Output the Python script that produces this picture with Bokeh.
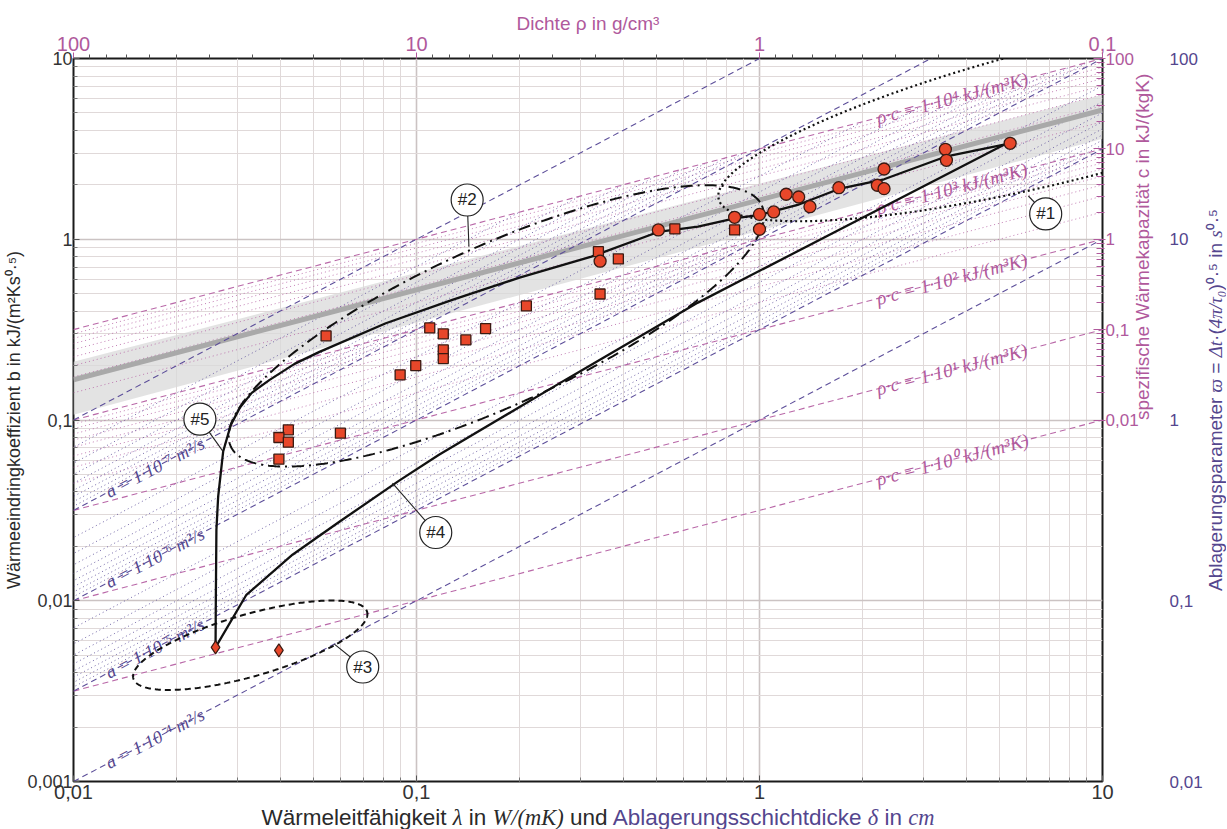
import numpy as np
from bokeh.plotting import figure
from bokeh.models import (LogAxis, Range1d, LogScale, FixedTicker, Div,
                          CustomJSTickFormatter)
from bokeh.layouts import column, row
from bokeh.embed import file_html
from bokeh.resources import INLINE
from bokeh.core.properties import value

# ------------------------------------------------------------------ data
# measured points (lambda in W/(mK), b in kJ/(m^2 K s^0.5))
circ_x = [0.507, 0.343, 0.846, 1.0, 1.0, 1.10, 1.196, 1.301, 1.403, 1.703,
          2.206, 2.307, 2.307, 3.483, 3.507, 5.38]
circ_y = [1.126, 0.756, 1.323, 1.373, 1.136, 1.416, 1.774, 1.713, 1.514, 1.929,
          1.989, 2.447, 1.905, 3.146, 2.734, 3.396]
sq_x = [0.0545, 0.2091, 0.1093, 0.1197, 0.1393, 0.1590, 0.1197, 0.1197, 0.0995,
        0.0896, 0.0423, 0.0397, 0.0423, 0.0397, 0.0600, 0.3391, 0.3877, 0.3429,
        0.5665, 0.8461]
sq_y = [0.2919, 0.4278, 0.3232, 0.2995, 0.2773, 0.3203, 0.2443, 0.2187, 0.2000,
        0.1777, 0.0882, 0.0800, 0.0754, 0.0607, 0.0846, 0.854, 0.778, 0.498,
        1.140, 1.126]
dia_x = [0.02595, 0.0397]
dia_y = [0.00552, 0.00531]

# solid curves (#5 upper branch, #4 lower branch)
upper_x = [0.02595, 0.0260, 0.0261, 0.02641, 0.02731, 0.02875, 0.03053, 0.03308,
           0.03731, 0.0441, 0.05213, 0.0814, 0.1272, 0.1986, 0.3236, 0.5065,
           0.6617, 0.8461, 1.0, 1.292, 1.703, 2.307, 3.483, 5.38]
upper_y = [0.00552, 0.01013, 0.0247, 0.0377, 0.0669, 0.0940, 0.1167, 0.1413,
           0.1667, 0.2044, 0.2381, 0.3431, 0.4618, 0.6109, 0.8012, 1.097,
           1.174, 1.303, 1.363, 1.548, 1.897, 2.147, 2.862, 3.396]
lower_x = [0.02595, 0.03192, 0.0435, 0.05959, 0.0890, 0.1163, 0.2715, 0.6617,
           5.147, 5.38]
lower_y = [0.00552, 0.01079, 0.01797, 0.02734, 0.0462, 0.0642, 0.1667, 0.4461,
           3.322, 3.396]

# regression line with confidence band
trend_x = [0.01, 10]
trend_y = [0.167, 5.19]
band_lo = [0.107, 3.6]
band_hi = [0.21, 6.3]

# reference lines
a_values = [1e-8, 1e-7, 1e-6, 1e-5, 1e-4]          # m^2/s
a_labels = {1e-7: "a = 1·10⁻⁷ m²/s", 1e-6: "a = 1·10⁻⁶ m²/s",
            1e-5: "a = 1·10⁻⁵ m²/s", 1e-4: "a = 1·10⁻⁴ m²/s"}
rc_values = [1e0, 1e1, 1e2, 1e3, 1e4]               # kJ/(m^3 K)
rc_labels = ["ρ·c = 1·10⁰ kJ/(m³K)", "ρ·c = 1·10¹ kJ/(m³K)", "ρ·c = 1·10² kJ/(m³K)",
             "ρ·c = 1·10³ kJ/(m³K)", "ρ·c = 1·10⁴ kJ/(m³K)"]
rc_minor = [k * 10.0 ** n for n in (2, 3) for k in range(2, 10)]
a_minor = [k * 10.0 ** n for n in (-8, -7, -6) for k in range(2, 10)]

# ellipses in log10 space: centre, semi-axis vectors
ell1 = ((0.8954, 0.7039), (1.0145, 0.4816), (0.0465, -0.365))
ell2 = ((-0.7674, -0.4794), (0.7743, 0.6657), (0.0956, -0.4031))
ell3 = ((-1.4847, -2.2461), (0.3407, 0.1847), (0.0247, -0.1648))

# numbered callouts
lab_text = ["#1", "#2", "#3", "#4", "#5"]
lab_x = [6.83, 0.1405, 0.0697, 0.1138, 0.02336]
lab_y = [1.380, 1.649, 0.0043, 0.02385, 0.1011]
lead_x = [6.08, 0.1422, 0.0576, 0.0851, 0.02731]
lead_y = [1.735, 0.910, 0.00576, 0.0447, 0.0669]

x_major = [0.01, 0.1, 1, 10]
y_major = [0.001, 0.01, 0.1, 1, 10]
rho_major = [100, 10, 1, 0.1]
c_major = [0.01, 0.1, 1, 10, 100]
w_major = [0.01, 0.1, 1, 10, 100]

# ------------------------------------------------------------------ style
PINK = "#b0599c"
PINK_L = "#b968a8"
PURP = "#54468e"
PURP_L = "#5d4f9a"
DARK = "#2a2a2a"
SANS = "Liberation Sans"
SERIF = "Liberation Serif"

TOTAL_W = 1227
WT = 22                       # width of the strip holding the outer right title
W, H = TOTAL_W - WT, 807
BL, BR, BT, BB = 73, W - 1106, 58, 26
FW, FH = W - BL - BR, H - BT - BB

p = figure(width=W, height=H, x_axis_type="log", y_axis_type="log",
           x_range=Range1d(0.01, 10), y_range=Range1d(0.001, 10),
           output_backend="svg", toolbar_location=None, title=None,
           min_border_left=BL, min_border_right=BR,
           min_border_top=BT, min_border_bottom=BB)
p.outline_line_color = "#1a1a1a"
p.outline_line_width = 2
p.background_fill_color = "white"
p.border_fill_color = "white"

fmt_code = "return (tick >= 1) ? tick.toFixed(0) : String(tick).replace('.', ',');"

def minors(lo, hi):
    return [k * 10.0 ** n for n in range(lo, hi) for k in range(2, 10)]

def set_orient(ax, ang):
    if "axis_label_orientation" in ax.properties():
        ax.axis_label_orientation = ang

xt = FixedTicker(ticks=x_major, minor_ticks=minors(-2, 1))
yt = FixedTicker(ticks=y_major, minor_ticks=minors(-3, 1))
xax = p.xaxis[0]
yax = p.yaxis[0]
xax.ticker = xt
yax.ticker = yt
p.xgrid[0].ticker = xt
p.ygrid[0].ticker = yt
for g in (p.xgrid[0], p.ygrid[0]):
    g.grid_line_color = "#cbc3c3"
    g.grid_line_width = 1.6
    g.minor_grid_line_color = "#e0d9d9"
    g.minor_grid_line_width = 1

for ax in (xax, yax):
    ax.formatter = CustomJSTickFormatter(code=fmt_code)
    ax.axis_line_color = None
    ax.major_tick_in = 6
    ax.major_tick_out = 0
    ax.minor_tick_in = 4
    ax.minor_tick_out = 0
    ax.major_tick_line_color = "#555555"
    ax.minor_tick_line_color = "#777777"
    ax.major_label_text_font = SANS
    ax.major_label_text_color = "#333333"
xax.major_label_standoff = 3
xax.major_label_text_font_size = "20px"
xax.axis_label = None
yax.major_label_standoff = 1
yax.major_label_text_font_size = "18px"
yax.axis_label = "Wärmeeindringkoeffizient b in kJ/(m²Ks⁰·⁵)"
yax.axis_label_text_font = SANS
yax.axis_label_text_font_style = "normal"
yax.axis_label_text_font_size = "18px"
yax.axis_label_text_color = DARK
yax.axis_label_standoff = 0

# top axis: density
p.extra_x_ranges = {"rho": Range1d(100, 0.1)}
p.extra_x_scales = {"rho": LogScale()}
top = LogAxis(x_range_name="rho",
              ticker=FixedTicker(ticks=rho_major, minor_ticks=minors(-1, 2)),
              formatter=CustomJSTickFormatter(code=fmt_code))
top.axis_line_color = None
top.major_tick_in = 0
top.major_tick_out = 6
top.minor_tick_in = 0
top.minor_tick_out = 4
top.major_tick_line_color = PINK
top.minor_tick_line_color = "#555555"
top.major_label_text_color = PINK
top.major_label_text_font = SANS
top.major_label_text_font_size = "20px"
top.major_label_standoff = 2
top.axis_label = "Dichte ρ in g/cm³"
top.axis_label_text_font = SANS
top.axis_label_text_font_style = "normal"
top.axis_label_text_font_size = "19px"
top.axis_label_text_color = PINK
top.axis_label_standoff = 0
p.add_layout(top, "above")

# right axes: specific heat (inner) and deposit parameter (outer)
p.extra_y_ranges = {"c": Range1d(1e-6, 100), "w": Range1d(0.01, 100)}
p.extra_y_scales = {"c": LogScale(), "w": LogScale()}
cax = LogAxis(y_range_name="c",
              ticker=FixedTicker(ticks=c_major, minor_ticks=minors(-2, 2)),
              formatter=CustomJSTickFormatter(code=fmt_code), bounds=(0.01, 100))
cax.axis_line_color = None
cax.major_tick_in = 9
cax.major_tick_out = 3
cax.minor_tick_in = 6
cax.minor_tick_out = 2
cax.major_tick_line_color = PINK
cax.minor_tick_line_color = PINK
cax.major_label_text_color = PINK
cax.major_label_text_font = SANS
cax.major_label_text_font_size = "17px"
cax.major_label_standoff = 0
cax.axis_label = "spezifische Wärmekapazität c in kJ/(kgK)"
cax.axis_label_text_font = SANS
cax.axis_label_text_font_style = "normal"
cax.axis_label_text_font_size = "19px"
cax.axis_label_text_color = PINK
cax.axis_label_standoff = 1
set_orient(cax, np.pi / 2)
p.add_layout(cax, "right")

wax = LogAxis(y_range_name="w", ticker=FixedTicker(ticks=w_major, minor_ticks=[]),
              formatter=CustomJSTickFormatter(code=fmt_code))
wax.axis_line_color = None
wax.major_tick_line_color = None
wax.minor_tick_line_color = None
wax.major_tick_out = 0
wax.major_label_text_color = PURP
wax.major_label_text_font = SANS
wax.major_label_text_font_size = "17px"
wax.major_label_standoff = 3
wax.axis_label = None
p.add_layout(wax, "right")

# ------------------------------------------------------------------ background
p.varea(x=trend_x, y1=band_lo, y2=band_hi, fill_color="#d9d9d9", fill_alpha=0.75)

lam_full = [0.01, 10.0]
p.multi_line(xs=[lam_full for rc in rc_minor],
             ys=[[np.sqrt(l * rc * 1e3) / 1e3 for l in lam_full] for rc in rc_minor],
             line_color=PINK_L, line_width=1, line_dash="1 3", line_alpha=0.85)
a_xs, a_ys = [], []
for a in a_minor:
    lx = [a * 1e3, a * 1e7]
    a_xs.append(lx)
    a_ys.append([l / np.sqrt(a) / 1e3 for l in lx])
p.multi_line(xs=a_xs, ys=a_ys, line_color=PURP_L, line_width=1, line_dash="1 3",
             line_alpha=0.85)

p.line(trend_x, trend_y, line_color="#a9a9a9", line_width=5)

p.multi_line(xs=[lam_full for rc in rc_values],
             ys=[[np.sqrt(l * rc * 1e3) / 1e3 for l in lam_full] for rc in rc_values],
             line_color=PINK_L, line_width=1.1, line_dash="6 4")
p.multi_line(xs=[lam_full for a in a_values],
             ys=[[l / np.sqrt(a) / 1e3 for l in lam_full] for a in a_values],
             line_color=PURP_L, line_width=1.1, line_dash="6 4")

# line labels
ang_a = np.degrees(np.arctan((FH / 4.0) / (FW / 3.0)))
ang_rc = np.degrees(np.arctan(0.5 * (FH / 4.0) / (FW / 3.0)))
la = 0.0125
p.text(x=[la] * len(a_labels),
       y=[la / np.sqrt(a) / 1e3 for a in a_labels],
       text=list(a_labels.values()), angle=ang_a, angle_units="deg",
       text_font=value(SERIF), text_font_style="italic", text_font_size="18px",
       text_color=PURP, text_align="left", text_baseline="middle")
lr = 2.2
p.text(x=[lr] * len(rc_values),
       y=[np.sqrt(lr * rc * 1e3) / 1e3 for rc in rc_values],
       text=rc_labels, angle=ang_rc, angle_units="deg",
       text_font=value(SERIF), text_font_style="italic", text_font_size="19px",
       text_color=PINK, text_align="left", text_baseline="middle")

# ------------------------------------------------------------------ curves
t = np.linspace(0, 2 * np.pi, 400)

def ellipse(e):
    (cu, cv), (au, av), (bu, bv) = e
    return (10 ** (cu + au * np.cos(t) + bu * np.sin(t)),
            10 ** (cv + av * np.cos(t) + bv * np.sin(t)))

ex, ey = ellipse(ell1)
p.line(ex, ey, line_color="#111111", line_width=2.2, line_dash="2 3")
ex, ey = ellipse(ell2)
p.line(ex, ey, line_color="#111111", line_width=2, line_dash="12 5 2 5")
ex, ey = ellipse(ell3)
p.line(ex, ey, line_color="#111111", line_width=2, line_dash="6 4")

p.line(upper_x, upper_y, line_color="#111111", line_width=2.3)
p.line(lower_x, lower_y, line_color="#111111", line_width=2.3)

# ------------------------------------------------------------------ markers
MFILL, MLINE = "#e8472a", "#3a1a12"
p.scatter(sq_x, sq_y, marker="square", size=10, fill_color=MFILL, line_color=MLINE,
          line_width=1.3)
p.scatter(circ_x, circ_y, marker="circle", size=12, fill_color=MFILL,
          line_color=MLINE, line_width=1.3)
p.scatter(dia_x, dia_y, marker="diamond", size=13, fill_color=MFILL,
          line_color=MLINE, line_width=1.2)

# callouts
p.segment(x0=lab_x, y0=lab_y, x1=lead_x, y1=lead_y, line_color="#222222",
          line_width=1.1)
p.scatter(lab_x, lab_y, marker="circle", size=32, fill_color="white",
          line_color="#222222", line_width=1.2)
p.text(x=lab_x, y=lab_y, text=lab_text, text_font=value(SANS),
       text_font_size="17px", text_color="#222222", text_align="center",
       text_baseline="middle")

# ------------------------------------------------------------------ titles (HTML)
it = 'style="font-family:\'Liberation Serif\'; font-style:italic"'
xtitle = Div(
    text=(f'<span style="color:{DARK}">Wärmeleitfähigkeit <span {it}>λ</span> in '
          f'<span {it}>W/(mK)</span> und </span>'
          f'<span style="color:{PURP}">Ablagerungsschichtdicke <span {it}>δ</span> '
          f'in <span {it}>cm</span></span>'),
    width=W, height=21, margin=(0, 0, 0, 0),
    styles={"font-family": "'Liberation Sans'", "font-size": "22.5px",
            "line-height": "21px", "text-align": "center", "white-space": "nowrap",
            "padding-right": "9px", "box-sizing": "border-box"})

# outer right title, reading bottom-to-top, centred on the plot frame
wtitle = Div(
    text=(f'Ablagerungsparameter <span {it}>ϖ</span> = <span {it}>Δt</span>·'
          f'(<span {it}>4π/τ₀</span>)⁰·⁵ in <span {it}>s</span>⁰·⁵'),
    width=WT, height=H, margin=(0, 0, 0, 0),
    styles={"writing-mode": "vertical-rl", "transform": "rotate(180deg)",
            "text-align": "center", "font-family": "'Liberation Sans'",
            "font-size": "19px", "line-height": f"{WT}px", "color": PURP,
            "white-space": "nowrap", "padding-top": "7px", "padding-bottom": "0px",
            "box-sizing": "border-box", "overflow": "visible"})

layout = row(column(p, xtitle, spacing=0), wtitle, spacing=0)
open("out.html", "w").write(file_html(layout, INLINE))
